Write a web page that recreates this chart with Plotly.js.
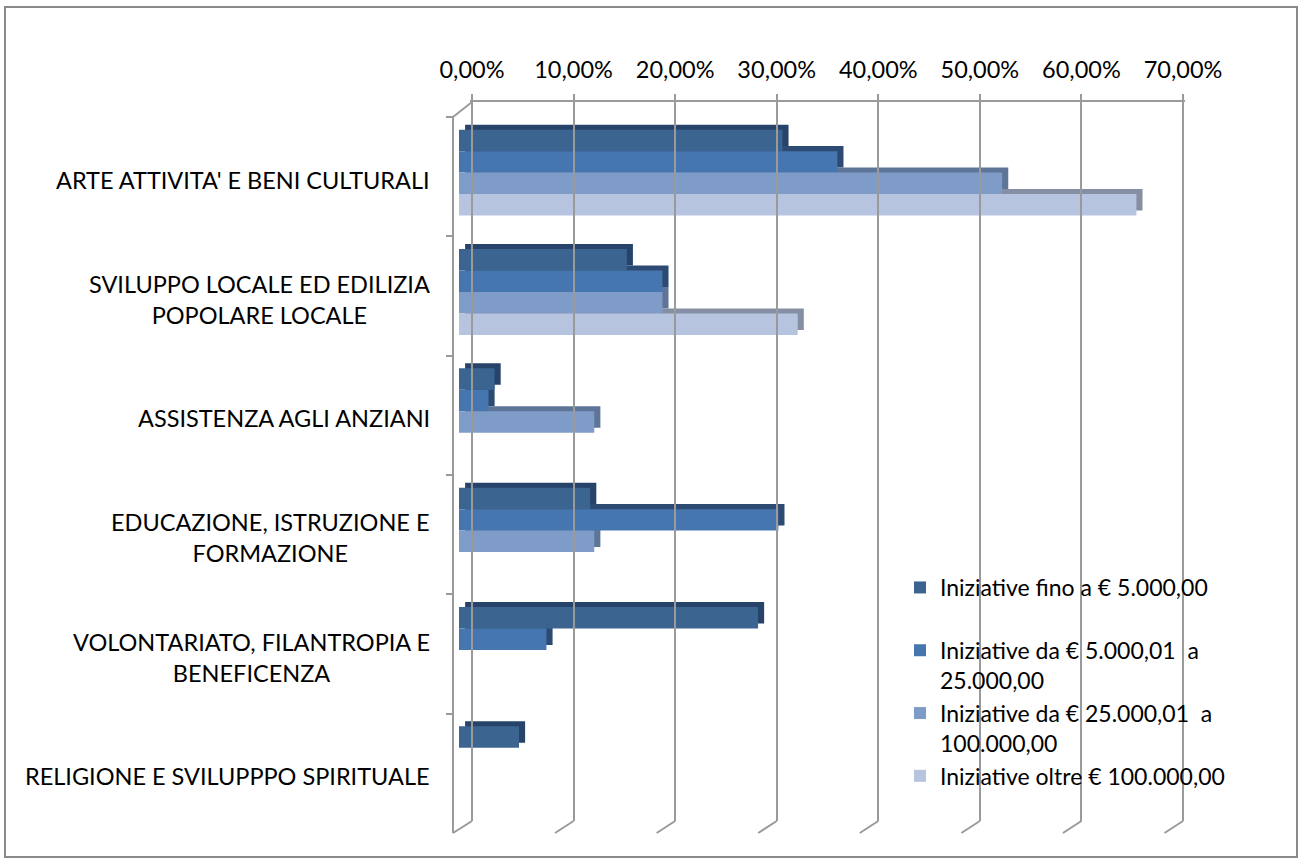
<!DOCTYPE html>
<html>
<head>
<meta charset="utf-8">
<script src="https://cdn.plot.ly/plotly-3.0.1.min.js"></script>
<style>
  html, body { margin: 0; padding: 0; background: #ffffff; }
  #chart { width: 1301px; height: 863px; }
</style>
</head>
<body>
<div id="chart"></div>
<script>
// ---- data ----
const categories = [
  "ARTE ATTIVITA' E BENI CULTURALI",
  "SVILUPPO LOCALE ED EDILIZIA<br>POPOLARE LOCALE",
  "ASSISTENZA AGLI ANZIANI",
  "EDUCAZIONE, ISTRUZIONE E<br>FORMAZIONE",
  "VOLONTARIATO, FILANTROPIA E<br>BENEFICENZA",
  "RELIGIONE E SVILUPPPO SPIRITUALE"
];
const seriesNames = [
  "Iniziative fino a € 5.000,00<br>\u00a0",
  "Iniziative da € 5.000,01\u00a0 a<br>25.000,00",
  "Iniziative da € 25.000,01\u00a0 a<br>100.000,00",
  "Iniziative oltre € 100.000,00"
];
const fino5000      = [0.318, 0.165, 0.035, 0.129, 0.294, 0.059];
const da5000a25000  = [0.372, 0.200, 0.029, 0.314, 0.086, null];
const da25000a100000= [0.534, 0.200, 0.133, 0.133, null, null];
const oltre100000   = [0.666, 0.333, null, null, null, null];
const tickValues = [0, 0.1, 0.2, 0.3, 0.4, 0.5, 0.6, 0.7];

// ---- styling ----
const W = 1301, H = 863;
const px = v => v / W;
const py = v => 1 - v / H;
const FONT = "Lato, 'Open Sans', sans-serif";
const FS = 23.5;
const faceColors   = ["#3C6491", "#4676B0", "#7F9CC9", "#B7C4DF"];
const shadeColors  = ["#27436A", "#2C4A72", "#5F7598", "#858FA4"];
const gridColor = "#9a9a9a";

const seriesValues = [fino5000, da5000a25000, da25000a100000, oltre100000];
const barWidth = 0.18;
const offsets = [-0.394, -0.214, -0.034, 0.146];
const depthX = 0.006;   // side face depth (value units)
const depthY = 0.042;   // top face depth (category units)

const traces = [];
// depth (shadow) faces first
seriesValues.forEach((vals, i) => {
  traces.push({
    type: 'bar', orientation: 'h',
    y: categories, x: vals,
    base: depthX,
    width: barWidth, offset: offsets[i] - depthY,
    marker: { color: shadeColors[i] },
    showlegend: false, hoverinfo: 'skip',
    xaxis: 'x', yaxis: 'y'
  });
});
// front faces
seriesValues.forEach((vals, i) => {
  traces.push({
    type: 'bar', orientation: 'h',
    name: seriesNames[i],
    y: categories, x: vals,
    width: barWidth, offset: offsets[i],
    marker: { color: faceColors[i] },
    xaxis: 'x', yaxis: 'y'
  });
});
// back wall subplot (grid + top labels)
traces.push({ type: 'scatter', x: [], y: [], xaxis: 'x2', yaxis: 'y2', showlegend: false, hoverinfo: 'skip' });

const shapes = [
  // outer border
  { type: 'rect', xref: 'paper', yref: 'paper', x0: px(5), x1: px(1297), y0: py(857), y1: py(7),
    line: { color: '#8a8a8a', width: 2 }, fillcolor: 'rgba(0,0,0,0)', layer: 'below' },
  // front left axis line
  { type: 'line', xref: 'paper', yref: 'paper', x0: px(453), y0: py(117), x1: px(453), y1: py(833),
    line: { color: gridColor, width: 2 } },
  // top-left depth edge
  { type: 'line', xref: 'paper', yref: 'paper', x0: px(453), y0: py(117), x1: px(472), y1: py(102),
    line: { color: gridColor, width: 2 } },
  // bottom-left depth edge
  { type: 'line', xref: 'paper', yref: 'paper', x0: px(472), y0: py(821), x1: px(453), y1: py(833),
    line: { color: gridColor, width: 2 } }
];
// bottom depth edges of grid lines
tickValues.filter(v => v > 0).forEach(v => {
  shapes.push({
    type: 'line', xref: 'x2', yref: 'paper',
    xsizemode: 'pixel', xanchor: v, x0: 0, x1: -18.5,
    ysizemode: 'pixel', yanchor: py(821), y0: 0, y1: -12,
    line: { color: gridColor, width: 2 }
  });
});

const annotations = categories.map(c => ({
  xref: 'paper', yref: 'y', x: px(432), y: c,
  xanchor: 'right', yanchor: 'middle', align: 'center',
  text: c, showarrow: false, yshift: -3,
  font: { family: FONT, size: FS, color: '#000000' }
}));

const pad = 0.002; // keep edge grid lines inside the range
const pxPerUnit = (1183 - 472) / 0.7;

const layout = {
  width: W, height: H,
  margin: { l: 0, r: 0, t: 0, b: 0 },
  paper_bgcolor: '#ffffff', plot_bgcolor: 'rgba(0,0,0,0)',
  separators: ',.',
  barmode: 'overlay',
  font: { family: FONT, size: FS, color: '#000000' },
  xaxis: {
    domain: [px(459), px(1171)], range: [0, 0.7], anchor: 'y',
    showgrid: false, zeroline: false, showline: false, showticklabels: false, ticks: ''
  },
  yaxis: {
    domain: [py(833), py(117)], type: 'category', range: [5.5, -0.5],
    anchor: 'free', position: px(453),
    showline: false,
    ticks: 'outside', tickson: 'boundaries', ticklen: 7, tickcolor: gridColor, tickwidth: 2,
    showticklabels: false, showgrid: false, zeroline: false
  },
  xaxis2: {
    domain: [px(472 - pad * pxPerUnit), px(1183 + pad * pxPerUnit)], range: [-pad, 0.7 + pad],
    anchor: 'y2', side: 'top',
    tickvals: tickValues, tickformat: '.2%',
    showgrid: true, gridcolor: gridColor, gridwidth: 2,
    showline: true, linecolor: gridColor, linewidth: 2,
    ticks: 'outside', ticklen: 6, tickcolor: gridColor, tickwidth: 2,
    ticklabelstandoff: 7,
    zeroline: false,
    tickfont: { family: FONT, size: FS, color: '#000000' }
  },
  yaxis2: {
    domain: [py(821), py(102)], range: [0, 1], anchor: 'x2',
    showgrid: false, zeroline: false, showline: false, showticklabels: false, ticks: ''
  },
  legend: {
    x: px(900), y: py(566), xanchor: 'left', yanchor: 'top',
    bgcolor: 'rgba(0,0,0,0)', valign: 'top', traceorder: 'normal',
    font: { family: FONT, size: FS - 0.5, color: '#000000' }
  },
  shapes: shapes,
  annotations: annotations,
  showlegend: true
};

Plotly.newPlot('chart', traces, layout, { displayModeBar: false, staticPlot: true });
</script>
</body>
</html>
